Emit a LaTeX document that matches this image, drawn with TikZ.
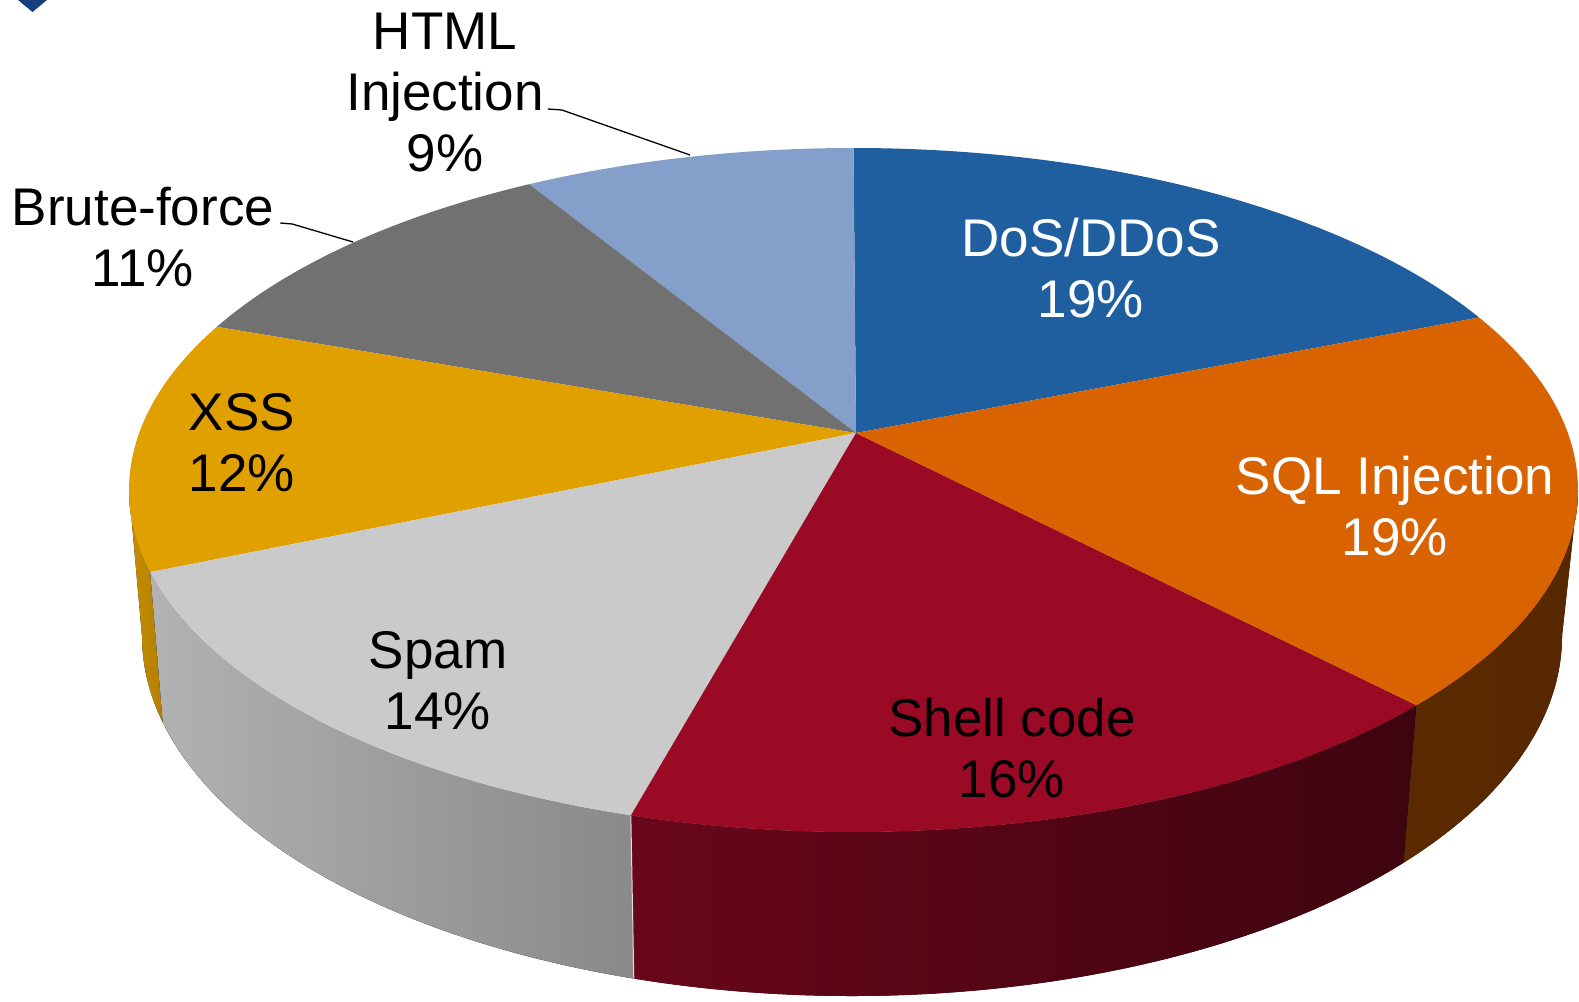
\documentclass[tikz,border=0pt]{standalone}
\usepackage{fontspec}
\setmainfont{Liberation Sans}
\usepackage{xcolor}
\usepackage{tikz}
\usetikzlibrary{calc, positioning}
\definecolor{dosblue}{HTML}{1F5F9F}
\definecolor{sqlorange}{HTML}{D96300}
\definecolor{shellred}{HTML}{9A0A25}
\definecolor{spamgray}{HTML}{CACACA}
\definecolor{xssgold}{HTML}{E0A000}
\definecolor{brutegray}{HTML}{717171}
\definecolor{htmlblue}{HTML}{849FCA}
\definecolor{markerblue}{HTML}{143F7C}
\tikzstyle{pielabel} = [font=\fontsize{53}{61}\selectfont, align=center, inner sep=0pt]
\tikzstyle{leader} = [line width=1.3pt, black]
\tikzstyle{toparc} = [x radius=724.5, y radius=342]
\tikzstyle{botarc} = [x radius=710, y radius=360]

\begin{document}
\begin{tikzpicture}[x=1pt, y=1pt]
\useasboundingbox (0,0) rectangle (1579,-1001);

% Centres
\coordinate (apex) at (856,-433);
\coordinate (ctop) at (853.5,-490);
\coordinate (cbot) at (852,-636);

% Rim points, top face
\coordinate (t1) at ($(ctop)+(30.3:724.5 and 342)$);
\coordinate (t2) at ($(ctop)+(90:724.5 and 342)$);
\coordinate (t3) at ($(ctop)+(116.6:724.5 and 342)$);
\coordinate (t4) at ($(ctop)+(151.5:724.5 and 342)$);
\coordinate (t5) at ($(ctop)+(193.9:724.5 and 342)$);
\coordinate (t6) at ($(ctop)+(252.1:724.5 and 342)$);
\coordinate (t7) at ($(ctop)+(321:724.5 and 342)$);
\coordinate (tleft) at ($(ctop)+(180:724.5 and 342)$);
\coordinate (tright) at ($(ctop)+(360:724.5 and 342)$);

% Rim points, bottom edge
\coordinate (b5) at ($(cbot)+(193.9:710 and 360)$);
\coordinate (b6) at ($(cbot)+(252.1:710 and 360)$);
\coordinate (b7) at ($(cbot)+(321:710 and 360)$);
\coordinate (bleft) at ($(cbot)+(180:710 and 360)$);
\coordinate (bright) at ($(cbot)+(360:710 and 360)$);

% Side walls
\fill[left color=xssgold!88!black, right color=xssgold!80!black] (tleft) arc[toparc, start angle=180, end angle=193.9] -- (b5) arc[botarc, start angle=193.9, end angle=180] -- cycle;
\fill[left color=spamgray!88!black, right color=spamgray!68!black] (t5) arc[toparc, start angle=193.9, end angle=252.1] -- (b6) arc[botarc, start angle=252.1, end angle=193.9] -- cycle;
\fill[left color=shellred!68!black, right color=shellred!40!black] (t6) arc[toparc, start angle=252.1, end angle=321] -- (b7) arc[botarc, start angle=321, end angle=252.1] -- cycle;
\fill[left color=sqlorange!42!black, right color=sqlorange!40!black] (t7) arc[toparc, start angle=321, end angle=360] -- (bright) arc[botarc, start angle=360, end angle=321] -- cycle;
\draw[white!75!gray, line width=1pt] (t6) -- (b6);

% Top face
\fill[dosblue] (apex) -- (t1) arc[toparc, start angle=30.3, end angle=90] -- cycle;
\fill[htmlblue] (apex) -- (t2) arc[toparc, start angle=90, end angle=116.6] -- cycle;
\fill[brutegray] (apex) -- (t3) arc[toparc, start angle=116.6, end angle=151.5] -- cycle;
\fill[xssgold] (apex) -- (t4) arc[toparc, start angle=151.5, end angle=193.9] -- cycle;
\fill[spamgray] (apex) -- (t5) arc[toparc, start angle=193.9, end angle=252.1] -- cycle;
\fill[shellred] (apex) -- (t6) arc[toparc, start angle=252.1, end angle=321] -- cycle;
\fill[sqlorange] (apex) -- (t7) arc[toparc, start angle=321, end angle=390.3] -- cycle;

% Labels
\node (dos) [pielabel, text=white] at (1091,-268) {DoS/DDoS\\19\%};
\node (sql) [pielabel, text=white] at (1395,-506) {SQL Injection\\19\%};
\node (shell) [pielabel] at (1012,-748) {Shell code\\16\%};
\node (spam) [pielabel] at (438,-681) {Spam\\14\%};
\node (xss) [pielabel] at (242,-443) {XSS\\12\%};
\node (brute) [pielabel] at (143,-237) {Brute-force\\11\%};
\node (html) [pielabel] at (445,-93) {HTML\\Injection\\9\%};

% Leader lines
\coordinate (brutepin) at (353,-242);
\coordinate (htmlpin) at (690,-155);
\draw[leader] ([xshift=6pt, yshift=14pt]brute.east) -- ++(12,-1) -- (brutepin);
\draw[leader] ([xshift=4pt, yshift=-16pt]html.east) -- ++(14,-1) -- (htmlpin);

% Corner marker
\fill[markerblue] (18,0) -- (47,0) -- (32.5,-12) -- cycle;

\end{tikzpicture}
\end{document}
